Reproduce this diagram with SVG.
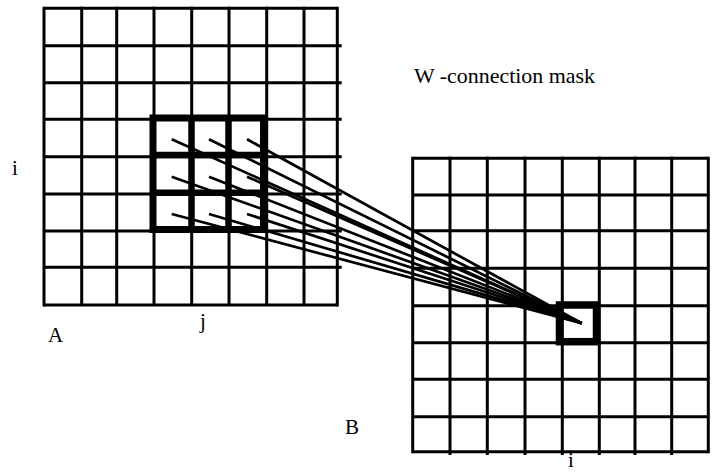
<svg xmlns="http://www.w3.org/2000/svg" width="712" height="473" viewBox="0 0 712 473">
<style>
.g{stroke:#000;stroke-width:3;fill:none}
.thick{stroke:#000;fill:none}
.c{stroke:#000;stroke-width:2.7;fill:none}
.t{font-family:"Liberation Serif","Times New Roman",serif;font-size:21px;fill:#000}
</style>
<rect width="712" height="473" fill="#fff"/>
<g id="gridA" class="g">
<path d="M44,8.3H337.3 M44,45.7H341.7 M44,82.7H341.7 M44,119.3H341.7 M44,156.7H341.7 M44,194H341.7 M44,231H341.7 M44,267.3H341.7 M44,305H337.3"/>
<path d="M44,6.7V306.5 M81.7,6.7V305 M116.7,6.7V305 M154,6.7V305 M191.7,6.7V305 M229,6.7V305 M266.7,6.7V305 M304,6.7V305 M337.3,6.7V306.5"/>
</g>
<g id="gridB" class="g">
<path d="M412.7,158.3H708.3 M412.7,195H708.3 M412.7,230.7H708.3 M412.7,268.3H708.3 M412.7,305.7H708.3 M412.7,342.7H708.3 M412.7,379.3H708.3 M412.7,416.7H708.3 M412.7,451.7H708.3"/>
<path d="M412.7,156.8V453.2 M450,156.8V455 M487.3,156.8V455 M525,156.8V455 M562.3,156.8V455 M599.3,156.8V455 M635,156.8V455 M671.7,156.8V455 M708.3,156.8V453.2"/>
</g>
<g id="maskA" class="thick">
<rect x="153" y="118" width="110.5" height="111.5" stroke-width="7"/>
<path d="M191.5,118V229.5 M228.5,118V229.5 M153,155H263.5 M153,192.8H263.5" stroke-width="6.5"/>
</g>
<g id="maskB" class="thick">
<rect x="559.5" y="305" width="37" height="36.7" stroke-width="7.5"/>
</g>
<g id="connectors" class="c">
<line x1="171.7" y1="139.3" x2="581.7" y2="323.3"/>
<line x1="209" y1="139.3" x2="581.7" y2="323.3"/>
<line x1="247" y1="139.3" x2="581.7" y2="323.3"/>
<line x1="171.7" y1="176.7" x2="581.7" y2="323.3"/>
<line x1="209" y1="176.7" x2="581.7" y2="323.3"/>
<line x1="247" y1="176.7" x2="581.7" y2="323.3"/>
<line x1="171.7" y1="214" x2="581.7" y2="323.3"/>
<line x1="209" y1="214" x2="581.7" y2="323.3"/>
<line x1="247" y1="214" x2="581.7" y2="323.3"/>
</g>
<g id="labels">
<text class="t" x="414" y="82.7" font-size="20" textLength="181" lengthAdjust="spacingAndGlyphs">W -connection mask</text>
<text class="t" x="12" y="175">i</text>
<text class="t" x="200" y="328">j</text>
<text class="t" x="48" y="341.7">A</text>
<text class="t" x="345" y="434.3">B</text>
<text class="t" x="568" y="467">i</text>
</g>
</svg>
